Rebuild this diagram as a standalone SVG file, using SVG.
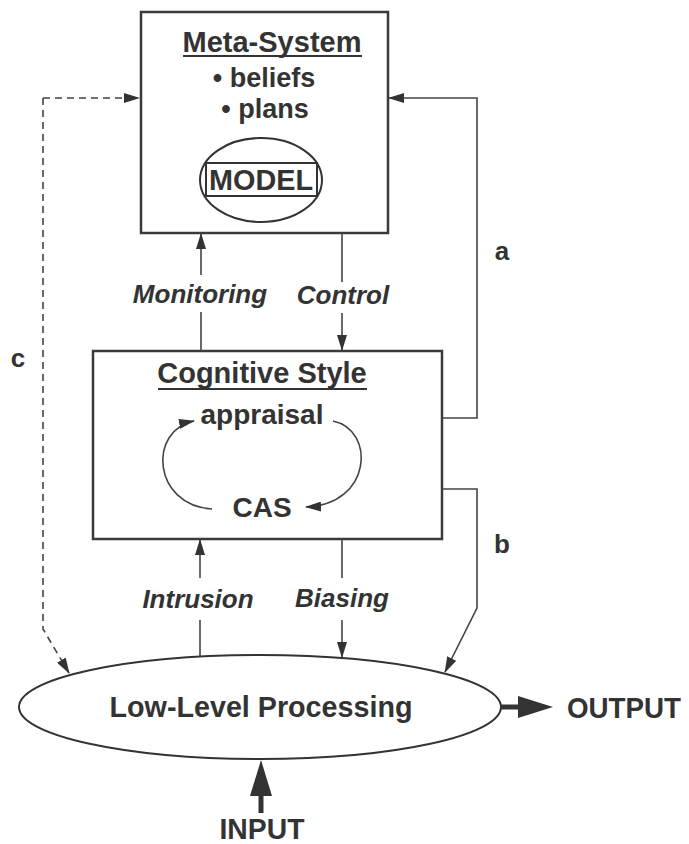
<svg xmlns="http://www.w3.org/2000/svg" width="689" height="844" viewBox="0 0 689 844">
<style>
.box{fill:#fff;stroke:#3a3a3a;stroke-width:2.5}
.t{font-family:"Liberation Sans",Arial,Helvetica,sans-serif;font-weight:bold;fill:#333;text-anchor:middle}
.lbl{font-family:"Liberation Sans",Arial,Helvetica,sans-serif;font-weight:bold;font-style:italic;fill:#333;text-anchor:middle;font-size:26px}
.c{fill:none;stroke:#444;stroke-width:1.6}
.ul{stroke:#333;stroke-width:2}
</style>
<defs>
<marker id="ah" viewBox="0 0 16 10" refX="15" refY="5" markerWidth="16" markerHeight="10" markerUnits="userSpaceOnUse" orient="auto">
<path d="M0,0 L16,5 L0,10 Z" fill="#333"/>
</marker>
</defs>
<rect width="689" height="844" fill="#fff"/>

<g id="meta-system">
<rect class="box" x="141" y="12" width="247" height="221"/>
<text class="t" x="272" y="52" font-size="30" textLength="179" lengthAdjust="spacingAndGlyphs">Meta-System</text>
<line class="ul" x1="183" y1="56" x2="362" y2="56"/>
<text class="t" x="264" y="87" font-size="27">• beliefs</text>
<text class="t" x="265" y="118" font-size="27">• plans</text>
<g id="model">
<ellipse cx="261" cy="180" rx="61" ry="42" fill="#fff" stroke="#333" stroke-width="2"/>
<rect x="206" y="163" width="111" height="33" fill="none" stroke="#333" stroke-width="2"/>
<text class="t" x="261" y="190" font-size="29" textLength="104" lengthAdjust="spacingAndGlyphs">MODEL</text>
</g>
</g>

<g id="cognitive-style">
<rect class="box" x="93" y="351" width="349" height="188"/>
<text class="t" x="262" y="383" font-size="29">Cognitive Style</text>
<line class="ul" x1="158" y1="389" x2="367" y2="389"/>
<text class="t" x="262" y="424" font-size="28">appraisal</text>
<text class="t" x="262" y="517" font-size="28">CAS</text>
<path class="c" d="M212,509 C152,505 148,430 194,421" marker-end="url(#ah)"/>
<path class="c" d="M333,421 C376,430 372,505 306,507" marker-end="url(#ah)"/>
</g>

<g id="low-level">
<ellipse cx="260" cy="707" rx="241" ry="52" fill="#fff" stroke="#333" stroke-width="2"/>
<text class="t" x="261" y="717" font-size="30" textLength="303" lengthAdjust="spacingAndGlyphs">Low-Level Processing</text>
</g>

<g id="output">
<text class="t" x="624" y="718" font-size="30" textLength="114" lengthAdjust="spacingAndGlyphs">OUTPUT</text>
</g>
<g id="input">
<text class="t" x="262" y="839" font-size="30" textLength="85" lengthAdjust="spacingAndGlyphs">INPUT</text>
</g>

<g id="connectors">
<line class="c" x1="201" y1="351" x2="201" y2="312"/>
<line class="c" x1="201" y1="275" x2="201" y2="234" marker-end="url(#ah)"/>
<text class="lbl" x="200" y="303">Monitoring</text>
<line class="c" x1="342" y1="233" x2="342" y2="282"/>
<line class="c" x1="342" y1="313" x2="342" y2="350" marker-end="url(#ah)"/>
<text class="lbl" x="343" y="304">Control</text>
<line class="c" x1="200" y1="657" x2="200" y2="620"/>
<line class="c" x1="200" y1="578" x2="200" y2="540" marker-end="url(#ah)"/>
<text class="lbl" x="198" y="608">Intrusion</text>
<line class="c" x1="342" y1="539" x2="342" y2="578"/>
<line class="c" x1="342" y1="620" x2="342" y2="657" marker-end="url(#ah)"/>
<text class="lbl" x="342" y="607">Biasing</text>
<polyline class="c" points="442,418 477,418 477,98 389,98" marker-end="url(#ah)"/>
<text class="t" x="502" y="260" font-size="26">a</text>
<polyline class="c" points="442,489 477,489 477,608 445,672" marker-end="url(#ah)"/>
<text class="t" x="502" y="553" font-size="26">b</text>
<polyline class="c" points="43,98 43,629 69,673" stroke-dasharray="7,5" marker-end="url(#ah)"/>
<line class="c" x1="43" y1="98" x2="139" y2="98" stroke-dasharray="7,5" marker-end="url(#ah)"/>
<text class="t" x="18" y="367" font-size="26">c</text>
<line x1="501" y1="707" x2="522" y2="707" stroke="#333" stroke-width="5"/>
<polygon points="518,696 553,707 518,718" fill="#333"/>
<line x1="261" y1="813" x2="261" y2="792" stroke="#333" stroke-width="5"/>
<polygon points="250,796 261,760 272,796" fill="#333"/>
</g>
</svg>
